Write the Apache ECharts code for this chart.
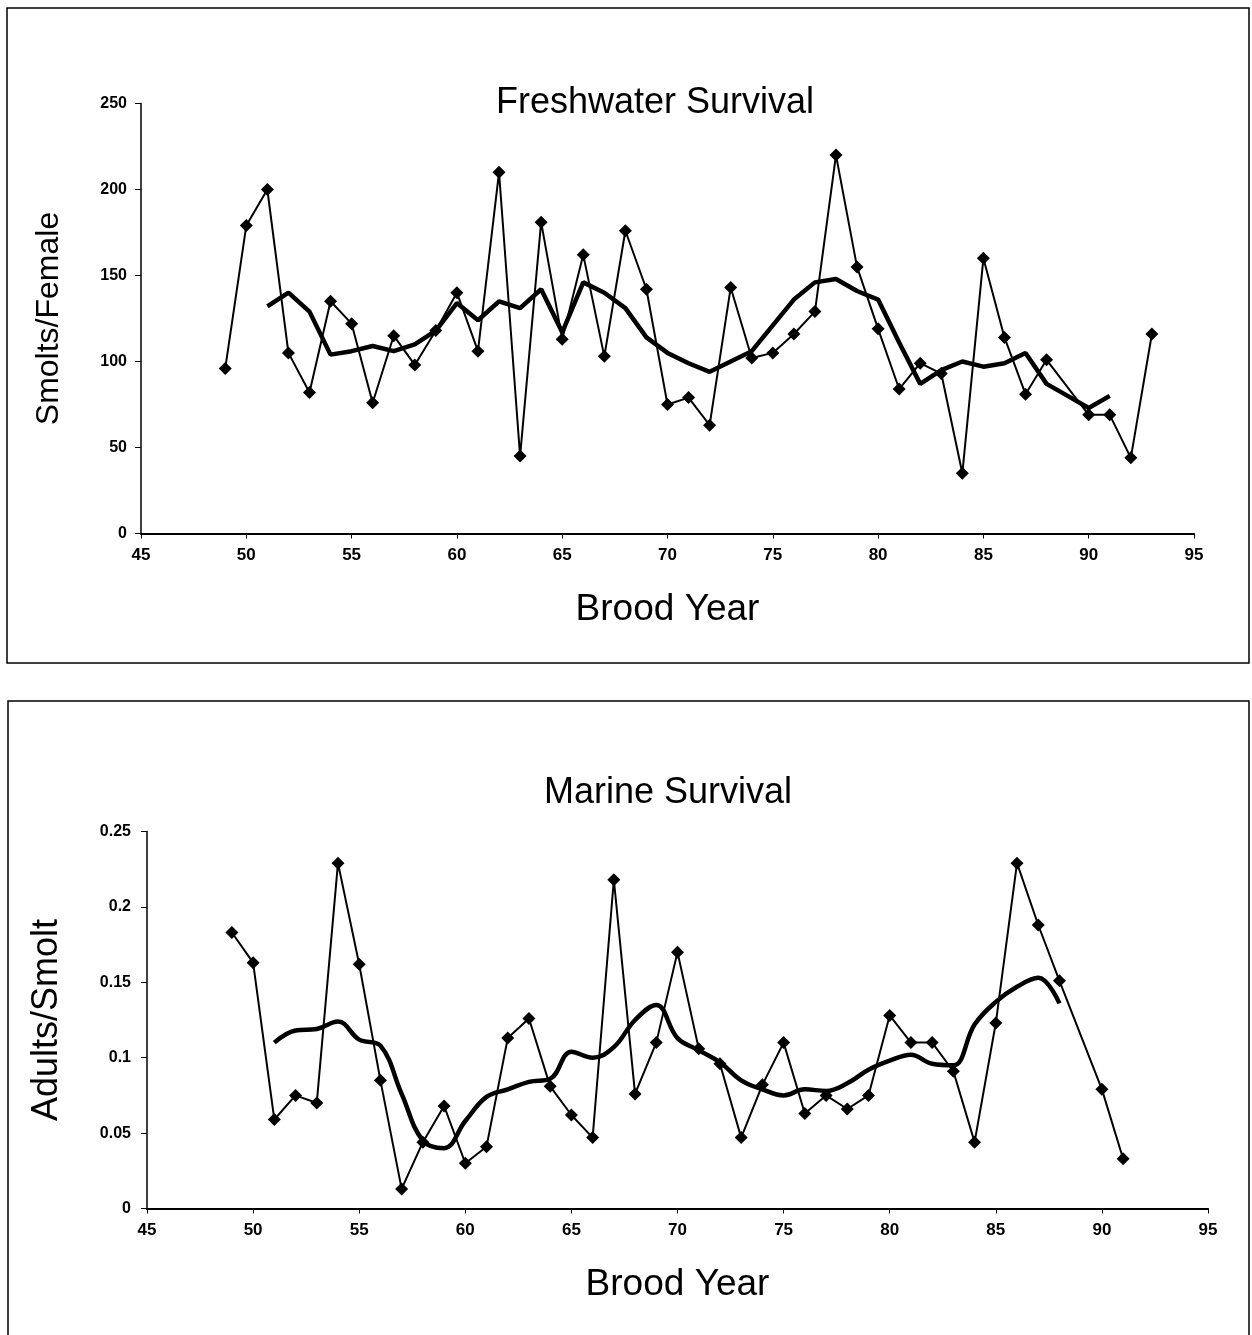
<!DOCTYPE html>
<html>
<head>
<meta charset="utf-8">
<script src="https://cdn.jsdelivr.net/npm/echarts@6/dist/echarts.min.js"></script>
<style>
html,body{margin:0;padding:0;background:#fff;}
#chart{width:1252px;height:1335px;}
</style>
</head>
<body>
<div id="chart"></div>
<script>
// ---------- DATA ----------
var fwYears = [49,50,51,52,53,54,55,56,57,58,59,60,61,62,63,64,65,66,67,68,69,70,71,72,73,74,75,76,77,78,79,80,81,82,83,84,85,86,87,88,89,90,91,92,93];
var fwSurvival = [96,179,200,105,82,135,122,76,115,98,118,140,106,210,45,181,113,162,103,176,142,75,79,63,143,102,105,116,129,220,155,119,84,99,93,35,160,114,81,101,null,69,69,44,116];
var fwMAYears = [51,52,53,54,55,56,57,58,59,60,61,62,63,64,65,66,67,68,69,70,71,72,73,74,75,76,77,78,79,80,81,82,83,84,85,86,87,88,89,90,91];
var fwMA = [132,140,129,104,106,109,106,110,118,134,124,135,131,142,117,146,140,131,114,105,99,94,100,106,121,136,146,148,141,136,111,87,95,100,97,99,105,87,80,73,80];

var mYears = [49,50,51,52,53,54,55,56,57,58,59,60,61,62,63,64,65,66,67,68,69,70,71,72,73,74,75,76,77,78,79,80,81,82,83,84,85,86,87,88,89,90,91];
var mSurvival = [0.183,0.163,0.059,0.075,0.070,0.229,0.162,0.085,0.013,0.044,0.068,0.030,0.041,0.113,0.126,0.081,0.062,0.047,0.218,0.076,0.110,0.170,0.106,0.096,0.047,0.082,0.110,0.063,0.075,0.066,0.075,0.128,0.110,0.110,0.091,0.044,0.123,0.229,0.188,0.151,null,0.079,0.033];
var mMAYears = [51,52,53,54,55,56,57,58,59,60,61,62,63,64,65,66,67,68,69,70,71,72,73,74,75,76,77,78,79,80,81,82,83,84,85,86,87,88];
var mMA = [0.110,0.118,0.119,0.124,0.112,0.108,0.076,0.045,0.040,0.058,0.074,0.079,0.084,0.086,0.104,0.100,0.107,0.125,0.135,0.113,0.105,0.097,0.085,0.079,0.075,0.079,0.078,0.083,0.092,0.098,0.102,0.096,0.095,0.122,0.137,0.147,0.153,0.136];

var xTicks = ['45','50','55','60','65','70','75','80','85','90','95'];
var fwYTicks = ['0','50','100','150','200','250'];
var mYTicks = ['0','0.05','0.1','0.15','0.2','0.25'];

function pairs(xs, ys){
  var out = [];
  for (var i=0;i<xs.length;i++){ if (ys[i] !== null) out.push([xs[i], ys[i]]); }
  return out;
}

var FONT = '"Liberation Sans", Arial, sans-serif';
var chart = echarts.init(document.getElementById('chart'), null, {renderer:'canvas'});

function xAxisCfg(gridIndex){
  return {
    type:'value', gridIndex:gridIndex, min:45, max:95, interval:5,
    name:'Brood Year', nameLocation:'middle', nameGap:58,
    nameTextStyle:{fontFamily:FONT, fontSize:37, color:'#000'},
    axisLine:{lineStyle:{color:'#000', width:2}},
    axisTick:{show:true, length:5, lineStyle:{color:'#000', width:1}},
    axisLabel:{fontFamily:FONT, fontSize:17, fontWeight:'bold', color:'#000', margin:13,
      formatter:function(v){ var i = Math.round((v-45)/5); return xTicks[i]; }},
    splitLine:{show:false}
  };
}

var option = {
  animation:false,
  backgroundColor:'#fff',
  title:[
    {text:'Freshwater Survival', left:650, top:80, textAlign:'center',
     textStyle:{fontFamily:FONT, fontSize:36, fontWeight:'normal', color:'#000'}},
    {text:'Marine Survival', left:663, top:770, textAlign:'center',
     textStyle:{fontFamily:FONT, fontSize:36, fontWeight:'normal', color:'#000'}}
  ],
  graphic:[
    {type:'rect', shape:{x:7, y:8, width:1242, height:655}, style:{fill:null, stroke:'#000', lineWidth:1.5}, silent:true},
    {type:'rect', shape:{x:8, y:701, width:1241, height:660}, style:{fill:null, stroke:'#000', lineWidth:1.5}, silent:true}
  ],
  grid:[
    {left:141, width:1053, top:103.5, height:430},
    {left:147, width:1061, top:831.5, height:377}
  ],
  xAxis:[ xAxisCfg(0), xAxisCfg(1) ],
  yAxis:[
    {type:'value', gridIndex:0, min:0, max:250, interval:50,
     name:'Smolts/Female', nameLocation:'middle', nameGap:76,
     nameTextStyle:{fontFamily:FONT, fontSize:32, color:'#000'},
     axisLine:{show:true, lineStyle:{color:'#000', width:1.5}},
     axisTick:{show:true, length:6, lineStyle:{color:'#000', width:1}},
     axisLabel:{fontFamily:FONT, fontSize:16, fontWeight:'bold', color:'#000', margin:14,
       formatter:function(v){ return fwYTicks[Math.round(v/50)]; }},
     splitLine:{show:false}},
    {type:'value', gridIndex:1, min:0, max:0.25, interval:0.05,
     name:'Adults/Smolt', nameLocation:'middle', nameGap:82,
     nameTextStyle:{fontFamily:FONT, fontSize:36, color:'#000'},
     axisLine:{show:true, lineStyle:{color:'#000', width:1.5}},
     axisTick:{show:true, length:6, lineStyle:{color:'#000', width:1}},
     axisLabel:{fontFamily:FONT, fontSize:16, fontWeight:'bold', color:'#000', margin:16,
       formatter:function(v){ return mYTicks[Math.round(v/0.05)]; }},
     splitLine:{show:false}}
  ],
  series:[
    {type:'line', xAxisIndex:0, yAxisIndex:0, data:pairs(fwMAYears, fwMA),
     symbol:'none', lineStyle:{color:'#000', width:4.5}, z:2},
    {type:'line', xAxisIndex:0, yAxisIndex:0, data:pairs(fwYears, fwSurvival),
     symbol:'diamond', symbolSize:13, itemStyle:{color:'#000'},
     lineStyle:{color:'#000', width:2}, z:3},
    {type:'line', xAxisIndex:1, yAxisIndex:1, data:pairs(mMAYears, mMA),
     symbol:'none', smooth:0.4, lineStyle:{color:'#000', width:4.5}, z:2},
    {type:'line', xAxisIndex:1, yAxisIndex:1, data:pairs(mYears, mSurvival),
     symbol:'diamond', symbolSize:13, itemStyle:{color:'#000'},
     lineStyle:{color:'#000', width:2}, z:3}
  ]
};
chart.setOption(option);
</script>
</body>
</html>
